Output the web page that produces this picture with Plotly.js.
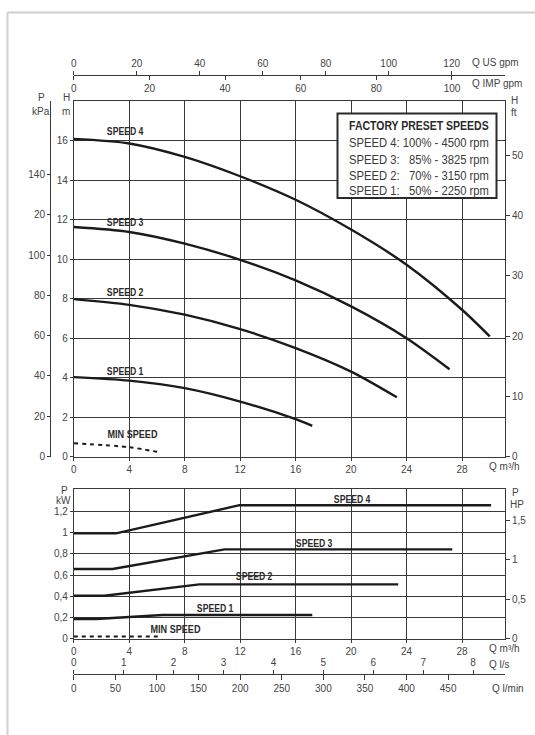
<!DOCTYPE html>
<html>
<head>
<meta charset="utf-8">
<script src="https://cdn.plot.ly/plotly-3.0.1.min.js"></script>
<style>html,body{margin:0;padding:0;background:#fff;}#chart{width:535px;height:735px;}</style>
</head>
<body>
<div id="chart"></div>
<script>
// ---------- DATA ----------
const speedNames = ['SPEED 4', 'SPEED 3', 'SPEED 2', 'SPEED 1', 'MIN SPEED'];

// Head curves: Q (m3/h) vs H (m)
const headQ4 = [0, 4, 8, 12, 16, 20, 24, 28, 30.0];
const headH4 = [16.08, 15.85, 15.17, 14.19, 13.0, 11.49, 9.71, 7.43, 6.08];
const headQ3 = [0, 4, 8, 12, 16, 20, 24, 27.1];
const headH3 = [11.62, 11.37, 10.78, 9.96, 8.92, 7.6, 5.99, 4.42];
const headQ2 = [0, 4, 8, 12, 16, 20, 23.3];
const headH2 = [7.97, 7.68, 7.18, 6.45, 5.49, 4.30, 3.0];
const headQ1 = [0, 4, 8, 12, 16, 17.2];
const headH1 = [4.02, 3.84, 3.46, 2.78, 1.89, 1.55];
const headQmin = [0, 4, 6.2];
const headHmin = [0.67, 0.47, 0.21];

// Power curves: Q (m3/h) vs P (kW)
const powQ4 = [0, 3.05, 11.95, 30.1];
const powP4 = [0.994, 0.994, 1.26, 1.26];
const powQ3 = [0, 2.8, 10.87, 27.3];
const powP3 = [0.658, 0.658, 0.843, 0.843];
const powQ2 = [0, 2.2, 9.06, 23.4];
const powP2 = [0.406, 0.406, 0.513, 0.513];
const powQ1 = [0, 1.6, 6.4, 17.2];
const powP1 = [0.186, 0.186, 0.224, 0.224];
const powQmin = [0, 6.2];
const powPmin = [0.02, 0.02];

// Tick labels
const qTicks = [0, 4, 8, 12, 16, 20, 24, 28];
const hTicks = [0, 2, 4, 6, 8, 10, 12, 14, 16];
const ftTicks = [0, 10, 20, 30, 40, 50];
const kpaTicks = [0, 20, 40, 60, 80, 100, 120, 140];
const kpaText = ['0', '20', '40', '60', '80', '100', '20', '140'];
const kwTicks = [0, 0.2, 0.4, 0.6, 0.8, 1, 1.2];
const kwText = ['0', '0,2', '0,4', '0,6', '0,8', '1', '1,2'];
const hpTicks = [0, 0.5, 1, 1.5];
const hpText = ['0', '0,5', '1', '1,5'];
const usTicks = [0, 20, 40, 60, 80, 100, 120];
const impTicks = [0, 20, 40, 60, 80, 100];
const lsTicks = [0, 1, 2, 3, 4, 5, 6, 7, 8];
const lminTicks = [0, 50, 100, 150, 200, 250, 300, 350, 400, 450];

const boxTitle = 'FACTORY PRESET SPEEDS';
const boxLines = [
  'SPEED 4: 100% - 4500 rpm',
  'SPEED 3:\u00A0\u00A0\u00A085% - 3825 rpm',
  'SPEED 2:\u00A0\u00A0\u00A070% - 3150 rpm',
  'SPEED 1:\u00A0\u00A0\u00A050% - 2250 rpm'
];

// ---------- LAYOUT HELPERS ----------
const W = 535, Hh = 735;
const px = x => x / W;
const py = y => 1 - y / Hh;
const Qmax = 31.1, Hmax = 18, Pmax = 1.41;

const tickFont = {family: 'Liberation Sans, Arial, sans-serif', size: 10, color: '#444'};
const lblFont = {family: 'Liberation Sans, Arial, sans-serif', size: 10, color: '#2a2a2a', weight: 'bold'};
const gridC = '#3a3a3a';
const curveC = '#1b1b1b';

const headQs = [headQ4, headQ3, headQ2, headQ1, headQmin];
const headHs = [headH4, headH3, headH2, headH1, headHmin];
const powQs = [powQ4, powQ3, powQ2, powQ1, powQmin];
const powPs = [powP4, powP3, powP2, powP1, powPmin];

const traces = [];
for (let i = 0; i < 5; i++) {
  traces.push({
    x: headQs[i], y: headHs[i], xaxis: 'x', yaxis: 'y', mode: 'lines', type: 'scatter',
    line: {color: curveC, width: i === 4 ? 2 : 2.4, shape: 'spline', smoothing: 0.8, dash: i === 4 ? '4px,4px' : 'solid'},
    hoverinfo: 'skip', showlegend: false
  });
}
for (let i = 0; i < 5; i++) {
  traces.push({
    x: powQs[i], y: powPs[i], xaxis: 'x2', yaxis: 'y4', mode: 'lines', type: 'scatter',
    line: {color: curveC, width: i === 4 ? 2 : 2.4, dash: i === 4 ? '4px,4px' : 'solid'},
    hoverinfo: 'skip', showlegend: false
  });
}
// empty traces to instantiate secondary axes
[['x', 'y2'], ['x', 'y3'], ['x3', 'y'], ['x4', 'y'], ['x2', 'y5'], ['x5', 'y4'], ['x6', 'y4']].forEach(p => {
  traces.push({x: [], y: [], xaxis: p[0], yaxis: p[1], type: 'scatter', mode: 'lines', showlegend: false, hoverinfo: 'skip'});
});

const xDom = [px(73.8), px(505)];
const topDom = [py(456.5), py(101)];
const botDom = [py(638.7), py(489.3)];

const baseX = {
  range: [0, Qmax], tickvals: qTicks, ticktext: qTicks.map(String), showgrid: true, gridcolor: gridC, gridwidth: 1,
  showline: true, mirror: true, linecolor: gridC, linewidth: 1, ticks: 'outside', ticklen: 3, tickcolor: gridC,
  tickfont: tickFont, zeroline: false, domain: xDom, fixedrange: true
};

const layout = {
  width: W, height: Hh, margin: {l: 0, r: 0, t: 0, b: 0},
  paper_bgcolor: '#fff', plot_bgcolor: '#fff', showlegend: false,
  xaxis: Object.assign({}, baseX, {anchor: 'y'}),
  xaxis2: Object.assign({}, baseX, {anchor: 'y4'}),
  yaxis: {
    domain: topDom, range: [0, Hmax], tickvals: hTicks, ticktext: hTicks.map(String), showgrid: true, gridcolor: gridC, gridwidth: 1,
    showline: true, mirror: true, linecolor: gridC, linewidth: 1, ticks: 'outside', ticklen: 3, tickcolor: gridC,
    tickfont: tickFont, zeroline: false, anchor: 'x', fixedrange: true
  },
  yaxis2: {
    overlaying: 'y', side: 'right', anchor: 'x', range: [0, Hmax * 3.28084], tickvals: ftTicks, ticktext: ftTicks.map(String),
    showgrid: false, ticks: 'outside', ticklen: 4, tickcolor: gridC, tickfont: tickFont, zeroline: false, showline: false, fixedrange: true
  },
  yaxis3: {
    overlaying: 'y', side: 'left', anchor: 'free', position: px(50), range: [0, Hmax * 9.80665], tickvals: kpaTicks, ticktext: kpaText,
    showgrid: false, ticks: 'outside', ticklen: 3, tickcolor: gridC, showline: true, linecolor: gridC, linewidth: 1,
    tickfont: tickFont, zeroline: false, fixedrange: true
  },
  xaxis3: {
    overlaying: 'x', side: 'top', anchor: 'free', position: py(74.5), range: [0, Qmax * 4.40287], tickvals: usTicks, ticktext: usTicks.map(String),
    showgrid: false, ticks: 'outside', ticklen: 4, tickcolor: gridC, showline: true, linecolor: gridC, linewidth: 1.2,
    tickfont: tickFont, zeroline: false, fixedrange: true
  },
  xaxis4: {
    overlaying: 'x', side: 'bottom', anchor: 'free', position: py(74.5), range: [0, Qmax * 3.66615], tickvals: impTicks, ticktext: impTicks.map(String),
    showgrid: false, ticks: 'outside', ticklen: 4, tickcolor: gridC, showline: false,
    tickfont: tickFont, zeroline: false, fixedrange: true
  },
  yaxis4: {
    domain: botDom, range: [0, Pmax], tickvals: kwTicks, ticktext: kwText, showgrid: true, gridcolor: gridC, gridwidth: 1,
    showline: true, mirror: true, linecolor: gridC, linewidth: 1, ticks: 'outside', ticklen: 3, tickcolor: gridC,
    tickfont: tickFont, zeroline: false, anchor: 'x2', fixedrange: true
  },
  yaxis5: {
    overlaying: 'y4', side: 'right', anchor: 'x2', range: [0, Pmax / 0.7457], tickvals: hpTicks, ticktext: hpText,
    showgrid: false, ticks: 'outside', ticklen: 4, tickcolor: gridC, tickfont: tickFont, zeroline: false, showline: false, fixedrange: true
  },
  xaxis5: {
    overlaying: 'x2', side: 'top', anchor: 'free', position: py(673.5), range: [0, Qmax / 3.6], tickvals: lsTicks, ticktext: lsTicks.map(String),
    showgrid: false, ticks: 'outside', ticklen: 4, tickcolor: gridC, showline: true, linecolor: gridC, linewidth: 1.2,
    tickfont: tickFont, zeroline: false, fixedrange: true
  },
  xaxis6: {
    overlaying: 'x2', side: 'bottom', anchor: 'free', position: py(673.5), range: [0, Qmax * 1000 / 60], tickvals: lminTicks, ticktext: lminTicks.map(String),
    showgrid: false, ticks: 'outside', ticklen: 5, tickcolor: gridC, showline: false,
    tickfont: tickFont, zeroline: false, fixedrange: true
  },
  shapes: [
    {type: 'line', xref: 'paper', yref: 'paper', x0: px(7.5), x1: px(7.5), y0: 0, y1: py(12.5), line: {color: '#cfcfcf', width: 2}},
    {type: 'line', xref: 'paper', yref: 'paper', x0: px(7.5), x1: 1.01, y0: py(12.5), y1: py(12.5), line: {color: '#cfcfcf', width: 2}},
    {type: 'rect', xref: 'paper', yref: 'paper', x0: px(337.5), x1: px(496.5), y0: py(198), y1: py(113.5),
     fillcolor: '#fff', line: {color: '#2a2a2a', width: 2}, layer: 'above'}
  ],
  annotations: []
};

const ann = layout.annotations;
const squeeze = []; // per annotation: null or {w: target width, anchor}
function addText(t, x, y, xa, font, sq) {
  ann.push({text: t, xref: 'paper', yref: 'paper', x: px(x), y: py(y), xanchor: xa || 'center', yanchor: 'middle',
    showarrow: false, font: font || tickFont});
  squeeze.push(sq || null);
}
// axis titles
addText('P', 41, 98); addText('kPa', 41, 111);
addText('H', 66, 98); addText('m', 66, 111);
addText('H', 514, 100); addText('ft', 514, 112);
addText('Q US gpm', 470, 62, 'left'); addText('Q IMP gpm', 470, 83.5, 'left');
addText('Q m\u00B3/h', 487, 466.5, 'left');
addText('P', 64, 490.5); addText('kW', 63, 500.5);
addText('P', 515, 492); addText('HP', 517, 504);
addText('Q m\u00B3/h', 487, 648.5, 'left');
addText('Q l/s', 487, 664, 'left');
addText('Q l/min', 490, 688.5, 'left');

// speed labels
const headLblPos = [[3.7, 16.47], [3.7, 11.86], [3.7, 8.28], [3.7, 4.3], [4.2, 1.13]];
const powLblPos = [[20.1, 1.315], [17.35, 0.9], [13.0, 0.585], [10.2, 0.287], [7.3, 0.089]];
for (let i = 0; i < 5; i++) {
  const w = i === 4 ? 50 : 37;
  ann.push({text: speedNames[i], xref: 'x', yref: 'y', x: headLblPos[i][0], y: headLblPos[i][1], showarrow: false,
    xanchor: 'center', yanchor: 'middle', font: lblFont});
  squeeze.push({w: w, anchor: 'center'});
  ann.push({text: speedNames[i], xref: 'x2', yref: 'y4', x: powLblPos[i][0], y: powLblPos[i][1], showarrow: false,
    xanchor: 'center', yanchor: 'middle', font: lblFont});
  squeeze.push({w: w, anchor: 'center'});
}
// preset box text
const boxFont = {family: 'Liberation Sans, Arial, sans-serif', size: 13, color: '#3a3a3a'};
addText(boxTitle, 347, 125.5, 'left', Object.assign({}, boxFont, {weight: 'bold', color: '#2a2a2a'}), {w: 140, anchor: 'left'});
const boxY = [142.5, 159, 175, 191];
boxLines.forEach((t, i) => addText(t, 347, boxY[i], 'left', boxFont, {w: 140, anchor: 'left'}));

Plotly.newPlot('chart', traces, layout, {staticPlot: true, displayModeBar: false}).then(() => {
  squeeze.forEach((sq, i) => {
    if (!sq) return;
    const el = document.querySelector('g.annotation[data-index="' + i + '"] text.annotation-text');
    if (!el) return;
    const bb = el.getBBox();
    if (!bb.width) return;
    const s = sq.w / bb.width;
    const cx = sq.anchor === 'left' ? bb.x : bb.x + bb.width / 2;
    el.setAttribute('transform', 'translate(' + (cx * (1 - s)) + ',0) scale(' + s + ',1)');
  });
});
</script>
</body>
</html>
